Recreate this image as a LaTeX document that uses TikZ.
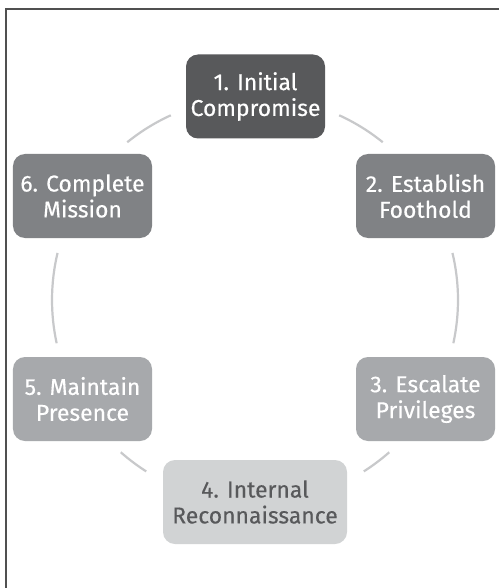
\documentclass[tikz,border=0pt]{standalone}
\usepackage{fontspec}
\setmainfont{Fira Sans}
\newfontfamily\stagefont{Fira Sans}[FakeBold=0.35]
\usetikzlibrary{calc}
\definecolor{cA}{HTML}{58595B}
\definecolor{cB}{HTML}{808285}
\definecolor{cC}{HTML}{A7A9AC}
\definecolor{cD}{HTML}{D1D3D4}
\definecolor{arcc}{HTML}{C8C9CB}
\definecolor{framec}{HTML}{505050}
\newcommand{\stgline}[1]{\raisebox{-2.5bp}{#1}}
\tikzset{
  stage/.style={rectangle, rounded corners=12bp, inner sep=0pt, minimum width=139bp, minimum height=84bp,
    align=center, text=white, font=\stagefont\fontsize{23}{26}\selectfont},
  arcline/.style={draw=arcc, line width=2.2bp},
}
\begin{document}
\begin{tikzpicture}[x=1bp, y=-1bp]
\useasboundingbox (0,0) rectangle (499,588);
\fill[white] (0,0) rectangle (499,588);
\draw[framec, line width=1.8bp] (5.8,590) -- (5.8,9.2) -- (501,9.2);
\coordinate (c) at (255,300);
\node[stage, fill=cA] (s1) at (255.5,96.5) {\stgline{1. Initial}\\\stgline{Compromise}};
\node[stage, fill=cB] (s2) at (425.5,196) {\stgline{2. Establish}\\\stgline{Foothold}};
\node[stage, fill=cC] (s3) at (425.5,399) {\stgline{3. Escalate}\\\stgline{Privileges}};
\node[stage, fill=cD, minimum width=184bp, text=cA] (s4) at (255,502) {\stgline{4. Internal}\\\stgline{Reconnaissance}};
\node[stage, fill=cC] (s5) at (82.5,399) {\stgline{5. Maintain}\\\stgline{Presence}};
\node[stage, fill=cB] (s6) at (82.5,196) {\stgline{6. Complete}\\\stgline{Mission}};
\draw[arcline] ($(c)+(-65.5:203)$) arc[start angle=-65.5, end angle=-51, radius=203];
\draw[arcline] ($(c)+(-13.4:203)$) arc[start angle=-13.4, end angle=12.3, radius=203];
\draw[arcline] ($(c)+(48.6:203)$) arc[start angle=48.6, end angle=57.6, radius=203];
\draw[arcline] ($(c)+(122.4:203)$) arc[start angle=122.4, end angle=131.4, radius=203];
\draw[arcline] ($(c)+(167.7:203)$) arc[start angle=167.7, end angle=193.4, radius=203];
\draw[arcline] ($(c)+(231:203)$) arc[start angle=231, end angle=245.5, radius=203];
\end{tikzpicture}
\end{document}
